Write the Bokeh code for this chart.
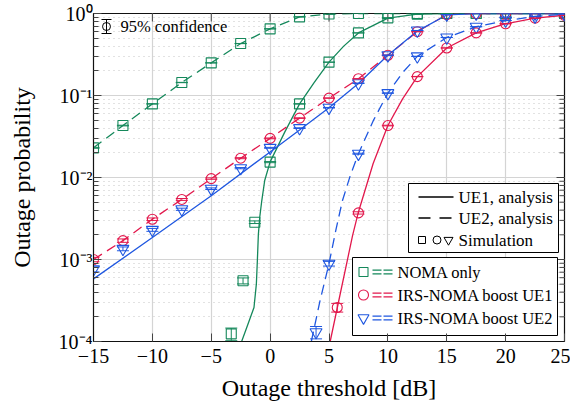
import math
from bokeh.plotting import figure
from bokeh.models import (Range1d, FixedTicker, ColumnDataSource,
                          Whisker, TeeHead, CustomJSTickFormatter, LinearScale)
from bokeh.core.properties import value
from bokeh.embed import file_html
from bokeh.resources import INLINE

# ---------------- data ----------------
GREEN = "#15885b"
RED = "#e2184c"
BLUE = "#1f57e0"

x_sim = [-15, -12.5, -10, -7.5, -5, -2.5, 0, 2.5, 5, 7.5, 10, 12.5, 15, 17.5, 20, 22.5, 25]

# NOMA only
noma_ue2_sim = [0.023, 0.043, 0.079, 0.144, 0.25, 0.43, 0.65, 0.91, 0.985, 1, 1, 1, 1, 1, 1, 1, 1]
noma_ue2_ana = [0.023, 0.043, 0.079, 0.144, 0.25, 0.43, 0.65, 0.91, 0.985, 1, 1, 1, 1, 1, 1, 1, 1]
noma_ue1_sim_x = [-3.3, -2.3, -1.3, 0, 2.5, 5, 7.5, 10, 12.5, 15, 17.5, 20, 22.5, 25]
noma_ue1_sim = [1.24e-4, 5.5e-4, 2.85e-3, 0.0154, 0.079, 0.255, 0.58, 0.885, 0.98, 1, 1, 1, 1, 1]
noma_ue1_ana_x = [-2.42, -1.9, -1.37, -1.17, -1.08, -1.0, -0.88, -0.71, -0.46, 0, 1.25, 2.5,
                  3.75, 5, 6.25, 7.5, 10, 12.5, 15, 17.5, 20, 22.5, 25]
noma_ue1_ana = [1e-4, 1.6e-4, 2.6e-4, 5e-4, 1e-3, 2e-3, 3.3e-3, 5.2e-3, 9.2e-3, 0.0155, 0.036, 0.079,
                0.145, 0.255, 0.40, 0.58, 0.88, 0.98, 1, 1, 1, 1, 1]

# IRS-NOMA boost UE1
b1_ue2_sim = [1.0e-3, 1.7e-3, 3.1e-3, 5.4e-3, 9.7e-3, 0.0172, 0.030, 0.053, 0.093, 0.16, 0.31, 0.60, 0.97, 1, 1, 1, 1]
b1_ue2_ana = [1.0e-3, 1.7e-3, 3.1e-3, 5.4e-3, 9.7e-3, 0.0172, 0.030, 0.053, 0.093, 0.16, 0.31, 0.60, 0.97, 1, 1, 1, 1]
b1_ue1_sim_x = [5.7, 7.5, 10, 12.5, 15, 17.5, 20, 22.5, 25]
b1_ue1_sim = [2.6e-4, 3.7e-3, 0.043, 0.17, 0.38, 0.58, 0.75, 0.877, 0.952]
b1_ue1_ana_x = [5.1, 6.0, 7.0, 7.5, 8.75, 10, 11.25, 12.5, 15, 17.5, 20, 22.5, 25]
b1_ue1_ana = [1e-4, 4.1e-4, 1.95e-3, 3.8e-3, 0.0148, 0.043, 0.091, 0.17, 0.38, 0.58, 0.75, 0.877, 0.952]

# IRS-NOMA boost UE2
b2_ue1_sim = [7.6e-4, 1.35e-3, 2.3e-3, 4.1e-3, 7.3e-3, 0.013, 0.023, 0.040, 0.071, 0.141, 0.31, 0.62, 0.97, 1, 1, 1, 1]
b2_ue1_ana_x = [-15, -10, -5, 0, 2.5, 5, 7.5, 10, 12.5, 15, 17.5, 20, 22.5, 25]
b2_ue1_ana = [5.8e-4, 1.85e-3, 6.0e-3, 0.0205, 0.038, 0.071, 0.14, 0.31, 0.61, 0.96, 1, 1, 1, 1]
b2_ue2_sim_x = [3.9, 5, 7.5, 10, 12.5, 15, 17.5, 20, 22.5, 25]
b2_ue2_sim = [1.3e-4, 8.9e-4, 0.0195, 0.107, 0.30, 0.51, 0.69, 0.82, 0.92, 0.985]
b2_ue2_ana_x = [3.5, 4.25, 5, 5.6, 6.14, 6.8, 7.5, 8.75, 10, 11.25, 12.5, 15, 17.5, 20, 22.5, 25]
b2_ue2_ana = [1e-4, 3.2e-4, 8.9e-4, 2.35e-3, 5.2e-3, 0.0105, 0.0195, 0.049, 0.107, 0.19, 0.30,
              0.51, 0.69, 0.82, 0.92, 0.985]

N_TRIALS = 1e6  # Monte-Carlo trials behind the 95% confidence bars

X_TICKS = [-15, -10, -5, 0, 5, 10, 15, 20, 25]
Y_TICKS = [1e-4, 1e-3, 1e-2, 1e-1, 1]
Y_MINOR = [m * 10.0 ** e for e in range(-4, 0) for m in range(2, 10)]

scheme_labels = ["NOMA only", "IRS-NOMA boost UE1", "IRS-NOMA boost UE2"]
style_labels = ["UE1, analysis", "UE2, analysis", "Simulation"]

FONT = "Liberation Serif"

# ---------------- figure ----------------
FW, FH = 471, 328
X0, X1 = -15, 25
Y0, Y1 = 1e-4, 1
p = figure(frame_width=FW, frame_height=FH, x_range=Range1d(X0, X1), y_range=Range1d(Y0, Y1),
           y_axis_type="log", output_backend="svg", toolbar_location=None,
           min_border_left=93, min_border_right=6, min_border_top=13, min_border_bottom=62,
           background_fill_color="white", border_fill_color="white")
p.outline_line_color = "#111111"
p.outline_line_width = 1.2

p.extra_x_ranges = {"px": Range1d(0, FW)}
p.extra_y_ranges = {"py": Range1d(0, FH)}
p.extra_x_scales = {"px": LinearScale()}
p.extra_y_scales = {"py": LinearScale()}

xt = FixedTicker(ticks=X_TICKS, minor_ticks=[])
yt = FixedTicker(ticks=Y_TICKS, minor_ticks=Y_MINOR)

p.xaxis.ticker = xt
p.yaxis.ticker = yt
p.xaxis.formatter = CustomJSTickFormatter(code="return tick < 0 ? '\\u2212' + Math.abs(tick) : String(tick);")
p.yaxis.formatter = CustomJSTickFormatter(code="""
const e = Math.round(Math.log10(tick));
const sup = {"0": "\\u2070", "1": "\\u00b9", "2": "\\u00b2", "3": "\\u00b3", "4": "\\u2074", "-": "\\u207b"};
return "10" + String(e).split("").map(c => sup[c]).join("");
""")
MAJ_T, MIN_T = 8, 5
for ax in (p.xaxis[0], p.yaxis[0]):
    ax.major_label_text_font = FONT
    ax.major_label_text_font_size = "20px"
    ax.major_label_text_color = "black"
    ax.axis_label_text_font = FONT
    ax.axis_label_text_font_size = "24px"
    ax.axis_label_text_font_style = "normal"
    ax.axis_label_text_color = "black"
    ax.major_tick_in = MAJ_T
    ax.major_tick_out = 0
    ax.minor_tick_in = MIN_T
    ax.minor_tick_out = 0
    ax.axis_line_color = "#111111"
    ax.major_tick_line_color = "#444444"
    ax.minor_tick_line_color = "#444444"
p.xaxis.minor_tick_line_color = None
p.xaxis.axis_label = "Outage threshold [dB]"
p.yaxis.axis_label = "Outage probability"
p.xaxis.major_label_standoff = 7
p.xaxis.axis_label_standoff = 9
p.yaxis.major_label_standoff = 1
p.yaxis.axis_label_standoff = 21

p.xgrid.ticker = xt
p.ygrid.ticker = yt
p.xgrid.grid_line_color = "#d4d4d4"
p.ygrid.grid_line_color = "#d4d4d4"
p.xgrid.grid_line_width = 1.2
p.ygrid.grid_line_width = 1.2
p.ygrid.minor_grid_line_color = "#c4c4c4"
p.ygrid.minor_grid_line_dash = "1 4"
p.ygrid.minor_grid_line_width = 1

# mirrored ticks on the top and right frame edges (pointing inwards)
dx_maj = MAJ_T * (X1 - X0) / FW
dx_min = MIN_T * (X1 - X0) / FW
dec_per_px = math.log10(Y1 / Y0) / FH
p.segment([X1 - dx_maj] * len(Y_TICKS), Y_TICKS, [X1] * len(Y_TICKS), Y_TICKS, color="#444444", line_width=1)
p.segment([X1 - dx_min] * len(Y_MINOR), Y_MINOR, [X1] * len(Y_MINOR), Y_MINOR, color="#444444", line_width=1)
p.segment(X_TICKS, [Y1 * 10 ** (-MAJ_T * dec_per_px)] * len(X_TICKS), X_TICKS, [Y1] * len(X_TICKS),
          color="#444444", line_width=1)

DASH = "10 6"
LW = 1.3

# analysis lines
p.line(noma_ue1_ana_x, noma_ue1_ana, color=GREEN, line_width=LW)
p.line(x_sim, noma_ue2_ana, color=GREEN, line_width=LW, line_dash=DASH)
p.line(b1_ue1_ana_x, b1_ue1_ana, color=RED, line_width=LW)
p.line(x_sim, b1_ue2_ana, color=RED, line_width=LW, line_dash=DASH)
p.line(b2_ue1_ana_x, b2_ue1_ana, color=BLUE, line_width=LW)
p.line(b2_ue2_ana_x, b2_ue2_ana, color=BLUE, line_width=LW, line_dash=DASH)


def add_sim(xs, ys, marker, color, size):
    half = [1.96 * math.sqrt(v * (1 - v) / N_TRIALS) for v in ys]
    src = ColumnDataSource(dict(x=xs, y=ys,
                                lo=[max(v - h, 1e-12) for v, h in zip(ys, half)],
                                hi=[v + h for v, h in zip(ys, half)]))
    p.scatter("x", "y", source=src, marker=marker, size=size, line_color=color,
              fill_color=None, line_width=1.1)
    p.add_layout(Whisker(source=src, base="x", upper="hi", lower="lo", line_color=color,
                         line_width=1, level="glyph",
                         upper_head=TeeHead(size=12, line_color=color, line_width=1),
                         lower_head=TeeHead(size=12, line_color=color, line_width=1)))


add_sim(x_sim, noma_ue2_sim, "square", GREEN, 10)
add_sim(noma_ue1_sim_x, noma_ue1_sim, "square", GREEN, 10)
add_sim(x_sim, b1_ue2_sim, "circle", RED, 10)
add_sim(b1_ue1_sim_x, b1_ue1_sim, "circle", RED, 10)
add_sim(x_sim, b2_ue1_sim, "inverted_triangle", BLUE, 12)
add_sim(b2_ue2_sim_x, b2_ue2_sim, "inverted_triangle", BLUE, 12)

# ---------------- legends (frame-pixel coordinates) ----------------
PX = dict(x_range_name="px", y_range_name="py")

# confidence note (top-left)
p.segment([13, 8, 8], [308, 322, 308], [13, 18, 18], [322, 322, 308], color="black", line_width=1, **PX)
p.scatter([13], [315], marker="circle", size=8, line_color="black", fill_color=None, line_width=1, **PX)
p.text([27], [315], text=["95% confidence"], text_font=value(FONT), text_font_size="16.5px",
       text_baseline="middle", text_align="left", text_color="black", **PX)

# legend 1: line styles
p.quad(left=[315], right=[465], bottom=[89], top=[158], fill_color="white", line_color="black", line_width=1, **PX)
p.line([325, 360], [144.5, 144.5], color="black", line_width=1.5, **PX)
p.line([325, 360], [123.5, 123.5], color="black", line_width=1.5, line_dash="12 9", **PX)
p.scatter([328.5, 343.5, 355], [101.5, 101.5, 101.5], marker=["square", "circle", "inverted_triangle"],
          size=[7, 8, 9], line_color="black", fill_color=None, line_width=1, **PX)
p.text([365, 365, 365], [144.5, 123.5, 101.5], text=style_labels, text_font=value(FONT),
       text_font_size="17px", text_baseline="middle", text_align="left", text_color="black", **PX)

# legend 2: schemes
p.quad(left=[259], right=[464], bottom=[6], top=[84], fill_color="white", line_color="black", line_width=1, **PX)
rows = [69.5, 46.5, 23.5]
colors = [GREEN, RED, BLUE]
markers = ["square", "circle", "inverted_triangle"]
msizes = [9, 10, 11]
for r, c, m, s in zip(rows, colors, markers, msizes):
    p.scatter([270], [r], marker=m, size=s, line_color=c, fill_color=None, line_width=1.1, **PX)
    p.line([279, 299], [r + 1.8, r + 1.8], color=c, line_width=1.2, line_dash="9 2", **PX)
    p.line([279, 299], [r - 1.8, r - 1.8], color=c, line_width=1.2, line_dash="9 2", **PX)
p.text([304, 304, 304], rows, text=scheme_labels, text_font=value(FONT), text_font_size="16.5px",
       text_baseline="middle", text_align="left", text_color="black", **PX)

open("out.html", "w").write(file_html(p, INLINE))
